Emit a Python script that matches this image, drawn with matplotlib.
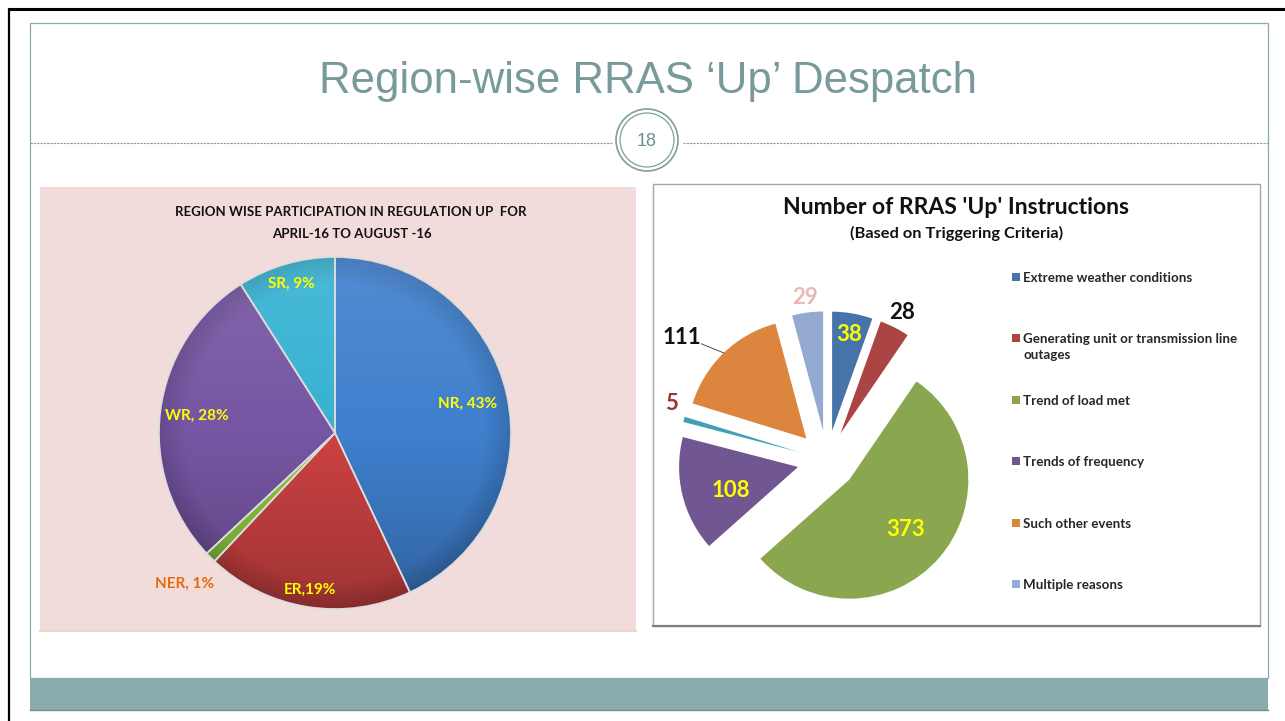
import numpy as np
import matplotlib
matplotlib.use('Agg')
import matplotlib.pyplot as plt
from matplotlib.patches import Rectangle, Circle

W, H = 1285, 721

# left chart: share of regulation-up by region
regions = ['NR', 'ER', 'NER', 'WR', 'SR']
region_share = [43, 19, 1, 28, 9]
region_labels = ['NR, 43%', 'ER,19%', 'NER, 1%', 'WR, 28%', 'SR, 9%']

# right chart: number of instructions by triggering criteria
criteria = ['Extreme weather conditions',
            'Generating unit or transmission line\noutages',
            'Trend of load met',
            'Trends of frequency',
            None,
            'Such other events',
            'Multiple reasons']
instr_counts = [38, 28, 373, 108, 5, 111, 29]

plt.rcParams['font.family'] = ['Lato', 'DejaVu Sans']

left_colors = ['#3f7fcd', '#cc4242', '#8cc63e', '#7656a3', '#37b2d3']
left_text = ['#ffff00', '#ffff00', '#e46c0a', '#ffff00', '#ffff00']
left_dist = [0.77, 0.90, 1.21, 0.79, 0.88]

right_colors = ['#4673a9', '#ab4543', '#8aa64f', '#715791', '#41a0b8', '#dc853e', '#95aad1']
right_text = ['#ffff00', '#111111', '#ffff00', '#ffff00', '#953735', '#111111', '#e6b9b8']
right_dist = [0.82, 1.14, 0.63, 0.60, 1.14, 1.35, 1.13]
right_nudge = [0, 0, 0, 6, -5, 7, 0]

teal = '#8aabab'
narrow = ['Liberation Sans Narrow', 'Liberation Sans', 'DejaVu Sans']

fig = plt.figure(figsize=(W / 100, H / 100), dpi=100)
fig.patch.set_facecolor('white')

bg = fig.add_axes([0, 0, 1, 1])
bg.set_xlim(0, W)
bg.set_ylim(H, 0)
bg.axis('off')

# slide frame
bg.plot([8, W], [9, 9], color='black', lw=2.2, solid_capstyle='butt')
bg.plot([9, 9], [8, H], color='black', lw=1.6, solid_capstyle='butt')
bg.add_patch(Rectangle((30, 23), 1238, 655, fill=False, edgecolor=teal, lw=0.9))
bg.add_patch(Rectangle((30, 678), 1238, 32, facecolor=teal, edgecolor='none'))
bg.plot([30, 1268], [710, 710], color='#6f9090', lw=1)

# title + page number
bg.text(648, 81, 'Region-wise RRAS \u2018Up\u2019 Despatch', ha='center', va='center',
        fontsize=31.5, color='#789a9a', family=narrow)
bg.plot([30, 612], [143, 143], color='#7f9f9f', lw=0.8, ls=(0, (2, 1)))
bg.plot([683, 1268], [143, 143], color='#7f9f9f', lw=0.8, ls=(0, (2, 1)))
bg.add_patch(Circle((647, 140), 31, facecolor='white', edgecolor='#7f9f9f', lw=1.2))
bg.add_patch(Circle((647, 140), 27, fill=False, edgecolor='#7f9f9f', lw=0.9))
bg.text(647, 141, '18', ha='center', va='center', fontsize=13, color='#6f8f8f', family=narrow)

# panels
bg.add_patch(Rectangle((40, 187), 596, 445, facecolor='#f2dcdb', edgecolor='none'))
bg.plot([40, 636], [631, 631], color='#e8d8c8', lw=1.5)
bg.add_patch(Rectangle((653, 184), 607, 442, facecolor='white', edgecolor='#a6a6a6', lw=1))
bg.plot([653, 1260], [626, 626], color='#808080', lw=1.6)

# left chart title
bg.text(351, 212, 'REGION WISE PARTICIPATION IN REGULATION UP  FOR', ha='center', va='center',
        fontsize=9.5, fontweight='bold', color='#111111')
bg.text(352, 234, 'APRIL-16 TO AUGUST -16', ha='center', va='center',
        fontsize=9.5, fontweight='bold', color='#111111')

# right chart title
bg.text(956, 208, "Number of RRAS 'Up' Instructions", ha='center', va='center',
        fontsize=16.5, fontweight='bold', color='#111111')
bg.text(957, 233, '(Based on Triggering Criteria)', ha='center', va='center',
        fontsize=11.8, fontweight='bold', color='#111111')


def px_axes(cx, cy, half):
    return fig.add_axes([(cx - half) / W, 1 - (cy + half) / H, 2 * half / W, 2 * half / H])


# ---- left pie ----
ax1 = px_axes(335, 433, 176)
wedges, _ = ax1.pie(region_share, colors=left_colors, startangle=90, counterclock=False,
                    radius=1, wedgeprops=dict(edgecolor='none'))
# soft shading: lighter top, darker bottom and rim
n = 400
yy, xx = np.mgrid[1:-1:n * 1j, -1:1:n * 1j]
rho = np.hypot(xx, yy)
t = (1 - yy) / 2
dark_layer = np.zeros((n, n, 4))
dark_layer[..., 3] = np.clip(0.22 * np.clip(2 * t - 1, 0, None)
                             + 0.14 * np.clip((rho - 0.85) / 0.15, 0, 1), 0, 0.4)
light_layer = np.ones((n, n, 4))
light_layer[..., 3] = 0.10 * np.clip(1 - 2 * t, 0, None)
for layer in (dark_layer, light_layer):
    im = ax1.imshow(layer, extent=(-1, 1, -1, 1), origin='upper', zorder=2)
    im.set_clip_path(Circle((0, 0), 1, transform=ax1.transData))
ax1.pie(region_share, colors=left_colors, startangle=90, counterclock=False, radius=1,
        wedgeprops=dict(fill=False, edgecolor='#dcdcdc', linewidth=1.2, zorder=3))
for w, lab, col, d in zip(wedges, region_labels, left_text, left_dist):
    mid = np.deg2rad((w.theta1 + w.theta2) / 2)
    ax1.text(d * np.cos(mid), d * np.sin(mid), lab, ha='center', va='center',
             fontsize=11, fontweight='bold', color=col, zorder=5)
ax1.set_xlim(-1, 1)
ax1.set_ylim(-1, 1)
ax1.set_aspect('equal')
ax1.axis('off')

# ---- right pie ----
ax2 = px_axes(827, 460, 178.5)
wedges2, _ = ax2.pie(instr_counts, colors=right_colors, startangle=90, counterclock=False,
                     radius=1, explode=[0.25] * len(instr_counts),
                     wedgeprops=dict(edgecolor='none'))
for w, v, col, d, nd in zip(wedges2, instr_counts, right_text, right_dist, right_nudge):
    cx, cy = w.center
    mid = (w.theta1 + w.theta2) / 2
    a = np.deg2rad(mid + nd)
    ax2.text(cx + d * np.cos(a), cy + d * np.sin(a), str(v), ha='center', va='center',
             fontsize=16, fontweight='bold', color=col)
    if v == 111:
        a0, a1 = np.deg2rad(mid + 4), np.deg2rad(mid)
        ax2.plot([cx + 1.19 * np.cos(a0), cx + 1.0 * np.cos(a1)],
                 [cy + 1.19 * np.sin(a0), cy + 1.0 * np.sin(a1)], color='#333333', lw=0.6)
ax2.set_xlim(-1.5, 1.5)
ax2.set_ylim(-1.5, 1.5)
ax2.set_aspect('equal')
ax2.axis('off')

# legend
k = 0
for name, col in zip(criteria, right_colors):
    if name is None:
        continue
    y = 277 + 61.4 * k
    bg.add_patch(Rectangle((1012, y - 4), 8, 8, facecolor=col, edgecolor='none'))
    bg.text(1023, y - 5, name, ha='left', va='top', fontsize=9.6, fontweight='bold',
            color='#262626', linespacing=1.35)
    k += 1

fig.savefig('out.png', dpi=100)
